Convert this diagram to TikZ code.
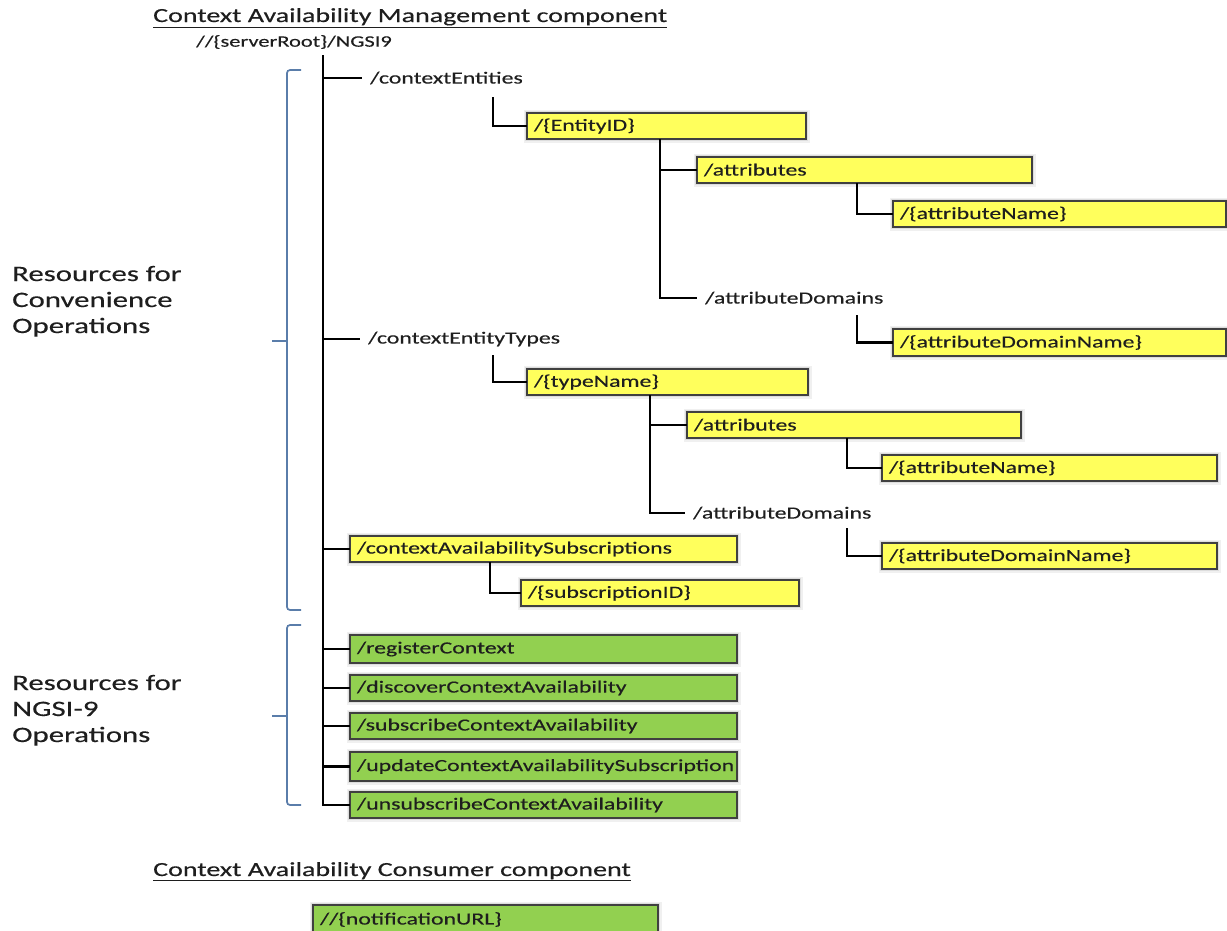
\documentclass[tikz,border=0pt]{standalone}
\usepackage{fontspec}
\setmainfont{Carlito}[FakeStretch=1.4, FakeBold=0.35]
\usetikzlibrary{calc}

\definecolor{boxyellow}{HTML}{FFFF5C}
\definecolor{boxgreen}{HTML}{92D050}
\definecolor{boxedge}{HTML}{404040}
\definecolor{bracecol}{HTML}{5A7DAA}
\definecolor{ink}{HTML}{1E1E1E}

\newcommand\treefont{\fontsize{17}{20}\selectfont}
\newcommand\rootfont{\fontsize{16}{19}\selectfont}
\newcommand\titlefont{\fontsize{20}{24}\selectfont}
\newcommand\groupfont{\fontsize{22}{26}\selectfont}

\tikzset{
  tree/.style={line width=2.8pt, black},
  brace/.style={line width=1.7pt, bracecol, rounded corners=3pt},
  boxbase/.style={draw=boxedge, line width=1.4pt, inner xsep=7pt, inner ysep=0pt,
    outer sep=0pt, align=left, font=\treefont, text=ink, anchor=north west,
    preaction={draw=black, draw opacity=0.06, line width=7pt},
    preaction={draw=black, draw opacity=0.08, line width=4pt}},
  plain/.style={font=\treefont, text=ink, inner xsep=8pt, inner ysep=2pt, anchor=west},
  heading/.style={font=\titlefont, text=ink, inner sep=0pt, anchor=base west},
  group/.style={font=\groupfont, text=ink, inner sep=0pt, anchor=base west},
}

% resource box: name, fill, left, top, right, bottom, text
\newcommand\resbox[7]{%
  \pgfmathsetmacro\bw{#5-#3-14}\pgfmathsetmacro\bh{#6-#4}%
  \node[boxbase, fill=#2, text width=\bw pt, minimum height=\bh pt] (#1) at (#3,#4) {\mbox{#7}};}

\begin{document}
\begin{tikzpicture}[x=1pt, y=-1pt]
\useasboundingbox (0,0) rectangle (1227,930);

% headings
\node[heading] (title1) at (153,22) {\underline{Context Availability Management component}};
\node[heading] (title2) at (153,876) {\underline{Context Availability Consumer component}};
\node[plain, font=\rootfont] (root) at (188,42) {//\{serverRoot\}/NGSI9};

% group labels
\node[group] (g1a) at (12,281) {Resources for};
\node[group] (g1b) at (12,307) {Convenience};
\node[group] (g1c) at (12,333) {Operations};
\node[group] (g2a) at (12,690) {Resources for};
\node[group] (g2b) at (12,716) {NGSI-9};
\node[group] (g2c) at (12,742) {Operations};

% braces
\draw[brace] (301,70) -- (287,70) -- (287,610) -- (301,610);
\draw[brace] (287,341) -- (272,341);
\draw[brace] (301,625) -- (287,625) -- (287,805) -- (301,805);
\draw[brace] (287,716) -- (272,716);

% plain resource names
\node[plain] (ce)  at (362,78)  {/contextEntities};
\node[plain] (cet) at (360,339) {/contextEntityTypes};
\node[plain] (ad1) at (697,298) {/attributeDomains};
\node[plain] (ad2) at (685,513) {/attributeDomains};

% boxed resources
\resbox{eid}{boxyellow}{527}{113}{806}{139}{/\{EntityID\}}
\resbox{att1}{boxyellow}{697}{157}{1032}{183}{/attributes}
\resbox{an1}{boxyellow}{893}{201}{1226}{227}{/\{attributeName\}}
\resbox{adn1}{boxyellow}{893}{329}{1226}{356}{/\{attributeDomainName\}}
\resbox{tn}{boxyellow}{527}{369}{808}{395}{/\{typeName\}}
\resbox{att2}{boxyellow}{687}{412}{1021}{438}{/attributes}
\resbox{an2}{boxyellow}{882}{455}{1217}{481}{/\{attributeName\}}
\resbox{adn2}{boxyellow}{882}{543}{1217}{569}{/\{attributeDomainName\}}
\resbox{cas}{boxyellow}{350}{536}{737}{562}{/contextAvailabilitySubscriptions}
\resbox{sid}{boxyellow}{521}{580}{799}{606}{/\{subscriptionID\}}
\resbox{reg}{boxgreen}{350}{635}{737}{663}{/registerContext}
\resbox{disc}{boxgreen}{350}{675}{737}{701}{/discoverContextAvailability}
\resbox{subs}{boxgreen}{350}{713}{737}{739}{/subscribeContextAvailability}
\resbox{upd}{boxgreen}{350}{752}{737}{781}{/updateContextAvailabilitySubscription}
\resbox{unsub}{boxgreen}{350}{792}{737}{818}{/unsubscribeContextAvailability}
\resbox{notif}{boxgreen}{313}{905}{658}{934}{//\{notificationURL\}}

% trunk and its branches
\coordinate (trunktop) at (323,55);
\draw[tree] (trunktop) -- (trunktop |- unsub.west) -- (unsub.west);
\foreach \n in {ce,cet,cas,reg,disc,subs,upd}
  \draw[tree] (trunktop |- \n.west) -- (\n.west);

% stems of sub-resources
\coordinate (ceStem)   at (493,97);
\coordinate (eidStem)  at (660,139);
\coordinate (att1Stem) at (857,183);
\coordinate (ad1Stem)  at (857,315);
\coordinate (cetStem)  at (493,355);
\coordinate (tnStem)   at (650,395);
\coordinate (att2Stem) at (847,438);
\coordinate (ad2Stem)  at (847,528);
\coordinate (casStem)  at (490,562);

\draw[tree] (ceStem) |- (eid.west);
\draw[tree] (eidStem) |- (att1.west);
\draw[tree] (eidStem) |- (ad1.west);
\draw[tree] (att1Stem) |- (an1.west);
\draw[tree] (ad1Stem) |- (adn1.west);
\draw[tree] (cetStem) |- (tn.west);
\draw[tree] (tnStem) |- (att2.west);
\draw[tree] (tnStem) |- (ad2.west);
\draw[tree] (att2Stem) |- (an2.west);
\draw[tree] (ad2Stem) |- (adn2.west);
\draw[tree] (casStem) |- (sid.west);
\end{tikzpicture}
\end{document}
